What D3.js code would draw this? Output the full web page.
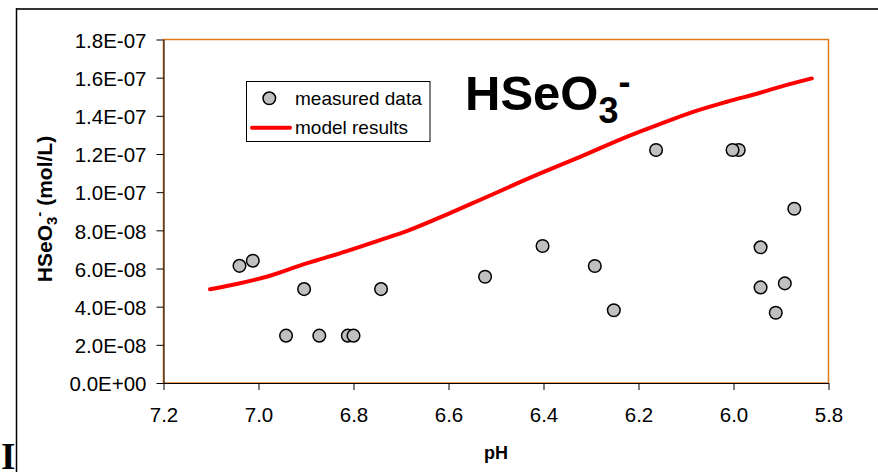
<!DOCTYPE html>
<html>
<head>
<meta charset="utf-8">
<script src="https://cdn.jsdelivr.net/npm/d3@7"></script>
<style>
  html, body { margin: 0; padding: 0; background: #fff; }
  svg { display: block; font-family: "Liberation Sans", Arial, sans-serif; }
</style>
</head>
<body>
<svg id="chart" width="878" height="472"></svg>
<script>
// ---- data ----
const xTicks = [7.2, 7.0, 6.8, 6.6, 6.4, 6.2, 6.0, 5.8];
const xTickLabels = ["7.2", "7.0", "6.8", "6.6", "6.4", "6.2", "6.0", "5.8"];
const yTicks = [0, 2e-8, 4e-8, 6e-8, 8e-8, 1.0e-7, 1.2e-7, 1.4e-7, 1.6e-7, 1.8e-7];
const yTickLabels = ["0.0E+00", "2.0E-08", "4.0E-08", "6.0E-08", "8.0E-08", "1.0E-07", "1.2E-07", "1.4E-07", "1.6E-07", "1.8E-07"];

const measuredPH = [7.040, 7.012, 6.942, 6.904, 6.872, 6.812, 6.800, 6.742, 6.523, 6.402, 6.292, 6.252, 6.163, 5.989, 6.002, 5.943, 5.943, 5.911, 5.892, 5.872];
const measuredConc = [6.14e-8, 6.41e-8, 2.48e-8, 4.92e-8, 2.48e-8, 2.48e-8, 2.48e-8, 4.92e-8, 5.57e-8, 7.18e-8, 6.13e-8, 3.81e-8, 12.21e-8, 12.21e-8, 12.21e-8, 7.11e-8, 5.01e-8, 3.68e-8, 5.22e-8, 9.13e-8];

const modelPH = [7.102, 7.046, 6.983, 6.899, 6.871, 6.814, 6.744, 6.688, 6.598, 6.534, 6.407, 6.323, 6.225, 6.155, 6.085, 6.014, 5.944, 5.902, 5.835];
const modelConc = [4.91e-8, 5.19e-8, 5.57e-8, 6.27e-8, 6.48e-8, 6.91e-8, 7.49e-8, 7.96e-8, 8.89e-8, 9.59e-8, 10.98e-8, 11.85e-8, 12.90e-8, 13.57e-8, 14.21e-8, 14.74e-8, 15.21e-8, 15.52e-8, 15.96e-8];

const legendLabels = ["measured data", "model results"];

// ---- layout ----
const svg = d3.select("#chart");
const L = 163.5, R = 828.5, T = 39.5, B = 383;

const x = d3.scaleLinear().domain([7.2, 5.8]).range([L, R]);
const y = d3.scaleLinear().domain([0, 1.8e-7]).range([B, T]);

// outer frame
svg.append("line").attr("x1", 16).attr("x2", 878).attr("y1", 9).attr("y2", 9)
  .attr("stroke", "#333").attr("stroke-width", 2);
svg.append("line").attr("x1", 16.5).attr("x2", 16.5).attr("y1", 8).attr("y2", 472)
  .attr("stroke", "#000").attr("stroke-width", 1.5);

// stray glyph bottom-left
svg.append("text").attr("x", 1).attr("y", 469)
  .attr("font-family", "'Liberation Serif', 'DejaVu Serif', serif")
  .attr("font-weight", "bold").attr("font-size", 37).attr("fill", "#000").text("I");

// plot area frame
svg.append("rect").attr("x", L).attr("y", T).attr("width", R - L).attr("height", B - T)
  .attr("fill", "#fff").attr("stroke", "#E07A1F").attr("stroke-width", 1.5);

// axes
const yLabelOf = d3.scaleOrdinal().domain(yTicks).range(yTickLabels);
const xLabelOf = d3.scaleOrdinal().domain(xTicks).range(xTickLabels);

const gy = svg.append("g").attr("transform", `translate(${L},0)`)
  .call(d3.axisLeft(y).tickValues(yTicks).tickFormat(d => yLabelOf(d))
    .tickSizeInner(7).tickSizeOuter(0).tickPadding(10));
gy.select(".domain").attr("stroke", "#000").attr("stroke-width", 1);
gy.selectAll(".tick line").attr("stroke", "#000");
gy.selectAll(".tick text").attr("font-size", 20.5).attr("fill", "#000")
  .attr("font-family", "'Liberation Sans', Arial, sans-serif").attr("dy", "0.38em");

const gx = svg.append("g").attr("transform", `translate(0,${B})`)
  .call(d3.axisBottom(x).tickValues(xTicks).tickFormat(d => xLabelOf(d))
    .tickSizeInner(7).tickSizeOuter(0).tickPadding(17));
gx.select(".domain").attr("stroke", "#000").attr("stroke-width", 1);
gx.selectAll(".tick line").attr("stroke", "#000");
gx.selectAll(".tick text").attr("font-size", 20.5).attr("fill", "#000")
  .attr("font-family", "'Liberation Sans', Arial, sans-serif");

// model line
const line = d3.line().x(d => x(d[0])).y(d => y(d[1])).curve(d3.curveMonotoneX);
const modelData = modelPH.map((p, i) => [p, modelConc[i]]);
svg.append("path").datum(modelData.slice().reverse())
  .attr("d", line).attr("fill", "none").attr("stroke", "#FF0000")
  .attr("stroke-width", 4).attr("stroke-linecap", "round").attr("stroke-linejoin", "round");

// measured points
svg.append("g").selectAll("circle")
  .data(measuredPH.map((p, i) => [p, measuredConc[i]]))
  .join("circle")
  .attr("cx", d => x(d[0])).attr("cy", d => y(d[1])).attr("r", 6.3)
  .attr("fill", "#C0C0C0").attr("stroke", "#000").attr("stroke-width", 1.5);

// legend
const lg = svg.append("g");
lg.append("rect").attr("x", 246.5).attr("y", 81.5).attr("width", 183.5).attr("height", 60)
  .attr("fill", "#fff").attr("stroke", "#000").attr("stroke-width", 1);
lg.append("circle").attr("cx", 269.3).attr("cy", 98.3).attr("r", 6.3)
  .attr("fill", "#C0C0C0").attr("stroke", "#000").attr("stroke-width", 1.5);
lg.append("line").attr("x1", 252).attr("x2", 290).attr("y1", 127.7).attr("y2", 127.7)
  .attr("stroke", "#FF0000").attr("stroke-width", 4).attr("stroke-linecap", "round");
lg.selectAll("text.lbl").data(legendLabels).join("text").attr("class", "lbl")
  .attr("x", 295).attr("y", (d, i) => i === 0 ? 105 : 134.3)
  .attr("font-size", 19).attr("fill", "#000").text(d => d);

// big title
const title = svg.append("text").attr("x", 465).attr("y", 110)
  .attr("font-weight", "bold").attr("font-size", 49).attr("fill", "#000");
title.append("tspan").text("HSeO");
title.append("tspan").attr("font-size", 36).attr("dy", 13).text("3");
title.append("tspan").attr("font-size", 36).attr("dy", -29).text("-");

// y axis title
const yt = svg.append("text").attr("transform", "translate(52,209) rotate(-90)")
  .attr("text-anchor", "middle").attr("font-weight", "bold").attr("font-size", 21).attr("fill", "#000");
yt.append("tspan").text("HSeO");
yt.append("tspan").attr("font-size", 15).attr("dy", 5).text("3");
yt.append("tspan").attr("font-size", 15).attr("dy", -13).text("-");
yt.append("tspan").attr("dy", 8).text(" (mol/L)");

// x axis title
svg.append("text").attr("x", 496).attr("y", 459).attr("text-anchor", "middle")
  .attr("font-weight", "bold").attr("font-size", 18).attr("fill", "#000").text("pH");
</script>
</body>
</html>
